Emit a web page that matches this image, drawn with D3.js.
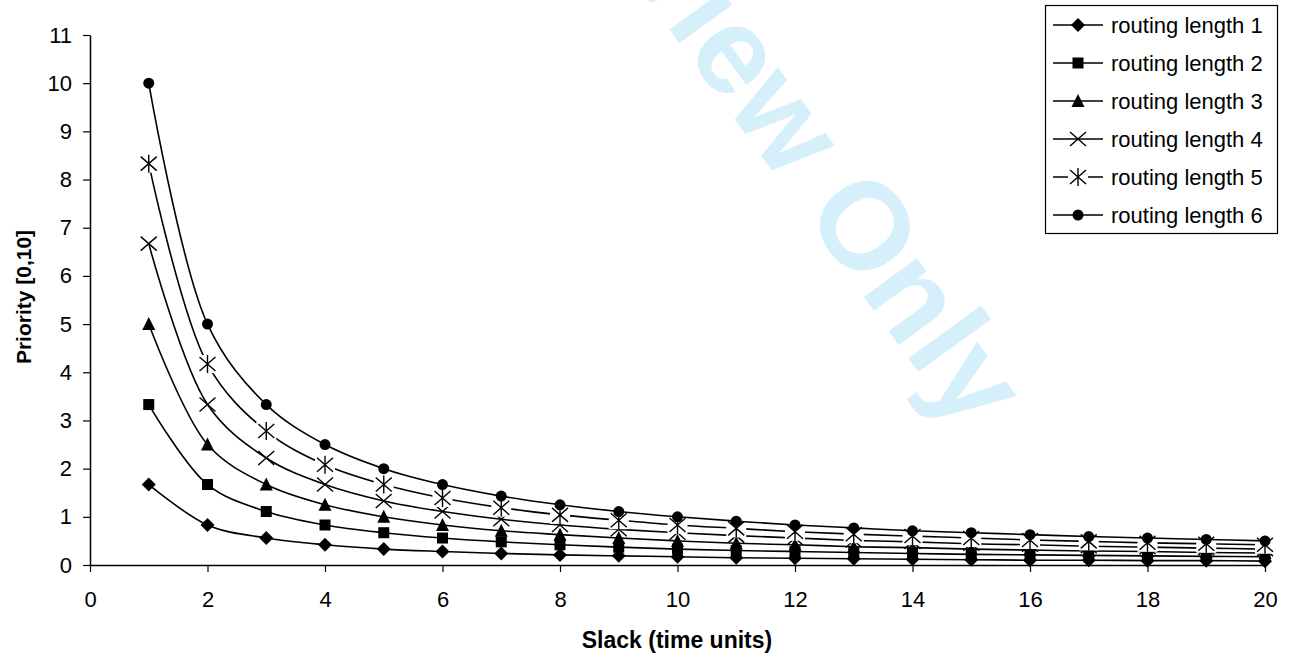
<!DOCTYPE html>
<html><head><meta charset="utf-8">
<script src="https://cdn.jsdelivr.net/npm/d3@7"></script>
<style>body{margin:0;background:#fff}svg{display:block}</style>
</head><body>
<script>
const slack = [1,2,3,4,5,6,7,8,9,10,11,12,13,14,15,16,17,18,19,20];
const seriesNames = ["routing length 1","routing length 2","routing length 3","routing length 4","routing length 5","routing length 6"];
const len1 = [1.67,0.83,0.56,0.42,0.33,0.28,0.24,0.21,0.19,0.17,0.15,0.14,0.13,0.12,0.11,0.10,0.10,0.09,0.09,0.08];
const len2 = [3.33,1.67,1.11,0.83,0.67,0.56,0.48,0.42,0.37,0.33,0.30,0.28,0.26,0.24,0.22,0.21,0.20,0.19,0.18,0.17];
const len3 = [5.00,2.50,1.67,1.25,1.00,0.83,0.71,0.63,0.56,0.50,0.45,0.42,0.38,0.36,0.33,0.31,0.29,0.28,0.26,0.25];
const len4 = [6.67,3.33,2.22,1.67,1.33,1.11,0.95,0.83,0.74,0.67,0.61,0.56,0.51,0.48,0.44,0.42,0.39,0.37,0.35,0.33];
const len5 = [8.33,4.17,2.78,2.08,1.67,1.39,1.19,1.04,0.93,0.83,0.76,0.69,0.64,0.60,0.56,0.52,0.49,0.46,0.44,0.42];
const len6 = [10.00,5.00,3.33,2.50,2.00,1.67,1.43,1.25,1.11,1.00,0.91,0.83,0.77,0.71,0.67,0.63,0.59,0.56,0.53,0.50];
const xTicks = [0,2,4,6,8,10,12,14,16,18,20];
const yTicks = [0,1,2,3,4,5,6,7,8,9,10,11];
const markerTypes = ["diamond","square","triangle","x","asterisk","circle"];
const allSeries = [len1,len2,len3,len4,len5,len6];

const W = 1293, H = 657;
const svg = d3.select("body").append("svg").attr("width", W).attr("height", H);
const font = "'Liberation Sans', Arial, Helvetica, sans-serif";

// watermark
svg.append("text")
  .attr("transform", "translate(964,435) rotate(54)")
  .attr("text-anchor", "end")
  .attr("font-family", font)
  .attr("font-size", 124)
  .attr("font-weight", "bold")
  .attr("fill", "#d6f0fb")
  .text("For Peer Review Only");

const x = d3.scaleLinear().domain([0,20]).range([90,1265]);
const y = d3.scaleLinear().domain([0,11]).range([565,35]);

const xAxis = svg.append("g").attr("transform", "translate(0,565)")
  .call(d3.axisBottom(x).tickValues(xTicks).tickSize(7).tickPadding(19).tickSizeOuter(0));
const yAxis = svg.append("g").attr("transform", "translate(90,0)")
  .call(d3.axisLeft(y).tickValues(yTicks).tickSize(7).tickPadding(11).tickSizeOuter(0));
[xAxis, yAxis].forEach(a => {
  a.selectAll("text").attr("font-family", font).attr("font-size", 22).attr("fill", "#000");
  a.selectAll("line").attr("stroke", "#000").attr("stroke-width", 1.2);
  a.select(".domain").attr("stroke", "#000").attr("stroke-width", 1.5);
});

svg.append("text").attr("x", 677).attr("y", 648).attr("text-anchor", "middle")
  .attr("font-family", font).attr("font-size", 23).attr("font-weight", "bold").text("Slack (time units)");
svg.append("text").attr("transform", "translate(31,297) rotate(-90)").attr("text-anchor", "middle")
  .attr("font-family", font).attr("font-size", 21).attr("font-weight", "bold").text("Priority [0,10]");

function drawMarker(g, type, cx, cy) {
  const m = g.append("g").attr("transform", `translate(${cx},${cy})`);
  switch (type) {
    case "diamond":
      m.append("path").attr("d", "M0,-7L7,0L0,7L-7,0Z").attr("fill", "#000"); break;
    case "square":
      m.append("rect").attr("x", -5.5).attr("y", -5.5).attr("width", 11).attr("height", 11).attr("fill", "#000"); break;
    case "triangle":
      m.append("path").attr("d", "M0,-7L6.5,6L-6.5,6Z").attr("fill", "#000"); break;
    case "x":
      m.append("path").attr("d", "M-8,-7L8,7M-8,7L8,-7").attr("stroke", "#000").attr("stroke-width", 1.4).attr("fill", "none"); break;
    case "asterisk":
      m.append("rect").attr("x", -10).attr("y", -9).attr("width", 20).attr("height", 18).attr("fill", "#fff");
      m.append("path").attr("d", "M-8,-7L8,7M-8,7L8,-7M0,-9L0,9").attr("stroke", "#000").attr("stroke-width", 1.4).attr("fill", "none"); break;
    case "circle":
      m.append("circle").attr("r", 5.5).attr("fill", "#000"); break;
  }
}

const line = d3.line().x(d => x(d[0])).y(d => y(d[1])).curve(d3.curveCatmullRom.alpha(0.5));
allSeries.forEach((vals, i) => {
  const g = svg.append("g");
  const pts = slack.map((s, j) => [s, vals[j]]);
  g.append("path").attr("d", line(pts)).attr("fill", "none").attr("stroke", "#000").attr("stroke-width", 1.6);
  pts.forEach(p => drawMarker(g, markerTypes[i], x(p[0]), y(p[1])));
});

// legend
const lg = svg.append("g");
lg.append("rect").attr("x", 1045.5).attr("y", 5.5).attr("width", 232).attr("height", 228)
  .attr("fill", "#fff").attr("stroke", "#000").attr("stroke-width", 1.2);
seriesNames.forEach((n, i) => {
  const yy = 25 + i * 38;
  lg.append("line").attr("x1", 1053).attr("x2", 1103).attr("y1", yy).attr("y2", yy).attr("stroke", "#000").attr("stroke-width", 1.6);
  drawMarker(lg, markerTypes[i], 1078, yy);
  lg.append("text").attr("x", 1111).attr("y", yy + 8).attr("font-family", font).attr("font-size", 22).text(n);
});
</script>
</body></html>
